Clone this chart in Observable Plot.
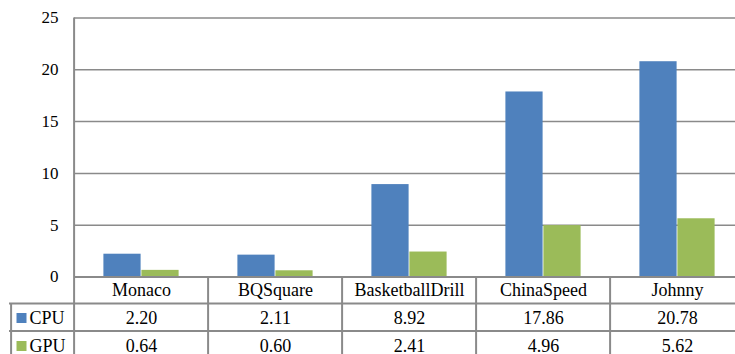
<!DOCTYPE html>
<html><head><meta charset="utf-8">
<script src="https://cdn.jsdelivr.net/npm/d3@7"></script>
<script src="https://cdn.jsdelivr.net/npm/@observablehq/plot@0.6"></script>
<style>html,body{margin:0;padding:0;background:#fff;overflow:hidden;}
svg.plot text{font-family:"Liberation Serif","Tinos","Times New Roman","DejaVu Serif",serif;}</style>
</head><body><div id="chart"></div>
<script>
const categories = ["Monaco", "BQSquare", "BasketballDrill", "ChinaSpeed", "Johnny"];
const seriesNames = ["CPU", "GPU"];
const cpuValues = [2.20, 2.11, 8.92, 17.86, 20.78];
const gpuValues = [0.64, 0.60, 2.41, 4.96, 5.62];
const yTicks = [0, 5, 10, 15, 20, 25];
const seriesColors = ["#4F81BD", "#9BBB59"];

// layout (pixels)
const W = 747, H = 354;
const xRange = [72, 746];
const yZero = 276.5, yTop = 17.5;
const step = (xRange[1] - xRange[0]) / categories.length;
const barW = 38;
const outer = (step - 2 * barW) / 2;
const unit = (yZero - yTop) / 25;            // pixels per data unit
const px = p => -(p - yZero) / unit;         // pixel row -> data value
const yBottom = px(H);
const rowLines = [px(303), px(330.5)];
const rowCenters = [px(290), px(317.5), px(345.5)];
const lineColor = "#8a8a8a";
const font = "\"Liberation Serif\", \"Tinos\", \"Times New Roman\", \"DejaVu Serif\", serif";
const fmt = d3.format(".2f");

const bars = categories.map((c, i) => ({cat: c, cpu: cpuValues[i], gpu: gpuValues[i]}));
const seriesValues = [cpuValues, gpuValues];
const first = categories[0], last = categories[categories.length - 1];

const marks = [
  // gridlines
  Plot.ruleY(yTicks.filter(d => d > 0), {y: d => d, x1: () => first, x2: () => last, stroke: lineColor, strokeWidth: 1.5}),
  // bars
  Plot.barY(bars, {x: "cat", y1: 0, y2: "cpu", fill: seriesColors[0], insetLeft: outer, insetRight: step - outer - barW}),
  Plot.barY(bars, {x: "cat", y1: 0, y2: "gpu", fill: seriesColors[1], insetLeft: outer + barW, insetRight: outer}),
  // zero line / table top
  Plot.ruleY([0], {x1: () => first, x2: () => last, stroke: lineColor, strokeWidth: 2}),
  // table row lines (span legend column too)
  Plot.ruleY(rowLines, {y: d => d, stroke: lineColor, strokeWidth: 2}),
  // left axis line
  Plot.ruleX([first], {x: d => d, y1: 25, y2: yBottom, dx: -step / 2, stroke: lineColor, strokeWidth: 2}),
  // column dividers
  Plot.ruleX(categories.slice(1), {x: d => d, y1: 0, y2: yBottom, dx: -step / 2, stroke: lineColor, strokeWidth: 2}),
  // legend column left edge
  Plot.ruleX([first], {x: d => d, y1: rowLines[0], y2: yBottom, dx: -step / 2 - 63, stroke: lineColor, strokeWidth: 2}),
  // y tick labels
  Plot.text(yTicks, {y: d => d, text: d => String(d), frameAnchor: "left", textAnchor: "end", dx: 49, fontSize: 17, fontFamily: font, fill: "black"}),
  // category labels
  Plot.text(categories, {x: d => d, y: rowCenters[0], text: d => d, fontSize: 18, fontFamily: font, fill: "black"}),
  // value rows
  ...seriesNames.map((s, k) => Plot.text(categories, {x: d => d, y: rowCenters[k + 1], text: (d, i) => fmt(seriesValues[k][i]), fontSize: 18, fontFamily: font, fill: "black"})),
  // legend swatches and labels
  ...seriesNames.map((s, k) => Plot.dot([s], {y: rowCenters[k + 1], frameAnchor: "left", dx: 12, symbol: "square", r: 5.64, fill: seriesColors[k], stroke: null})),
  ...seriesNames.map((s, k) => Plot.text([s], {y: rowCenters[k + 1], text: d => d, frameAnchor: "left", textAnchor: "start", dx: 20, fontSize: 18, fontFamily: font, fill: "black"}))
];

const chart = Plot.plot({
  width: W,
  height: H,
  marginLeft: 9,
  marginRight: 1,
  marginTop: 0,
  marginBottom: 0,
  style: {maxWidth: "none", background: "white", overflow: "hidden", fontFamily: font},
  x: {domain: categories, range: xRange, padding: 0, axis: null},
  y: {domain: [yBottom, 25], range: [H, yTop], axis: null},
  marks
});
document.getElementById("chart").appendChild(chart);
</script>
</body></html>
